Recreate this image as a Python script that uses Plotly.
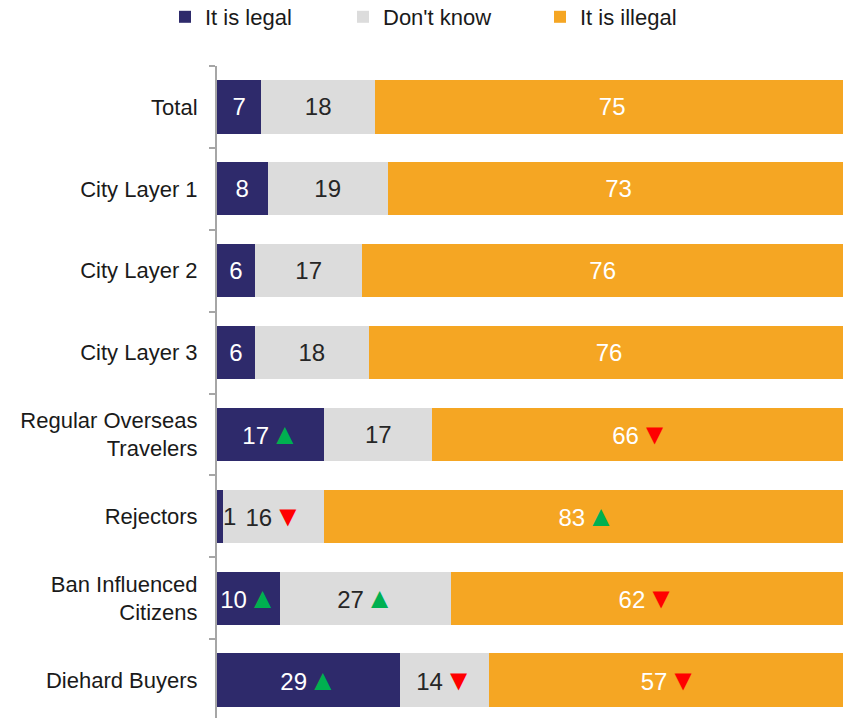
import plotly.graph_objects as go

categories = ["Total", "City Layer 1", "City Layer 2", "City Layer 3",
              "Regular Overseas<br>Travelers", "Rejectors",
              "Ban Influenced<br>Citizens", "Diehard Buyers"]

legal = [7, 8, 6, 6, 17, 1, 10, 29]
dont_know = [18, 19, 17, 18, 17, 16, 27, 14]
illegal = [75, 73, 76, 76, 66, 83, 62, 57]

# significance markers vs total: "up", "down" or ""
legal_sig = ["", "", "", "", "up", "", "up", "up"]
dont_know_sig = ["", "", "", "", "", "down", "up", "down"]
illegal_sig = ["", "", "", "", "down", "up", "down", "down"]

NAVY = "#2E2A6B"
GREY = "#DCDCDC"
ORANGE = "#F5A623"
FONT = "Liberation Sans, Arial, sans-serif"
W, H = 843, 721

def arrow(sig):
    if sig == "up":
        return '<span style="font-size:5px"> </span><span style="color:#00B050;font-size:29px">▲</span>'
    if sig == "down":
        return '<span style="font-size:5px"> </span><span style="color:#FF0000;font-size:29px">▼</span>'
    return ""

def labels(vals, sigs, hide_small=False):
    out = []
    for v, s in zip(vals, sigs):
        if hide_small and v < 3:
            out.append("")
        else:
            out.append(f"{v}{arrow(s)}")
    return out

fig = go.Figure()
series = [
    ("It is legal", legal, legal_sig, NAVY, "white", True, "legend", 165),
    ("Don't know", dont_know, dont_know_sig, GREY, "#262626", False, "legend2", 343),
    ("It is illegal", illegal, illegal_sig, ORANGE, "white", False, "legend3", 540),
]
legends = {}
for name, vals, sigs, color, tcol, small, leg, lx in series:
    fig.add_trace(go.Bar(
        name=name, y=categories, x=vals, orientation="h",
        marker=dict(color=color, line=dict(width=0)),
        text=labels(vals, sigs, small), textposition="inside",
        insidetextanchor="middle", constraintext="none",
        textfont=dict(color=tcol, size=24, family=FONT),
        hoverinfo="skip", legend=leg, showlegend=True,
    ))
    legends[leg] = dict(orientation="h", xref="container", x=lx / W,
                        xanchor="left", yref="container", y=1 - 17 / H,
                        yanchor="middle", bgcolor="rgba(0,0,0,0)",
                        font=dict(size=22, family=FONT, color="#1a1a1a"))

# tiny value for Rejectors sits just outside its sliver
for cat, v in zip(categories, legal):
    if v < 3:
        fig.add_annotation(x=v, y=cat, text=str(v), showarrow=False,
                           xanchor="left", xshift=-2,
                           font=dict(color="#262626", size=24, family=FONT))

fig.update_layout(
    barmode="stack", bargap=0.35, showlegend=True,
    width=W, height=H,
    margin=dict(l=217, r=0, t=66, b=0),
    plot_bgcolor="white", paper_bgcolor="white",
    font=dict(family=FONT, size=22, color="#1a1a1a"),
    xaxis=dict(range=[0, 99], visible=False),
    yaxis=dict(autorange="reversed", showline=True, linecolor="#A6A6A6",
               linewidth=2, ticks="outside", tickson="boundaries",
               ticklen=6, tickcolor="#A6A6A6", tickwidth=2,
               ticklabelstandoff=13,
               tickfont=dict(size=22, color="#1a1a1a")),
    **legends,
)

fig.write_html("out.html", config={"displayModeBar": False},
               post_script="document.body.style.margin='0';"
                           "document.body.style.overflow='hidden';")
